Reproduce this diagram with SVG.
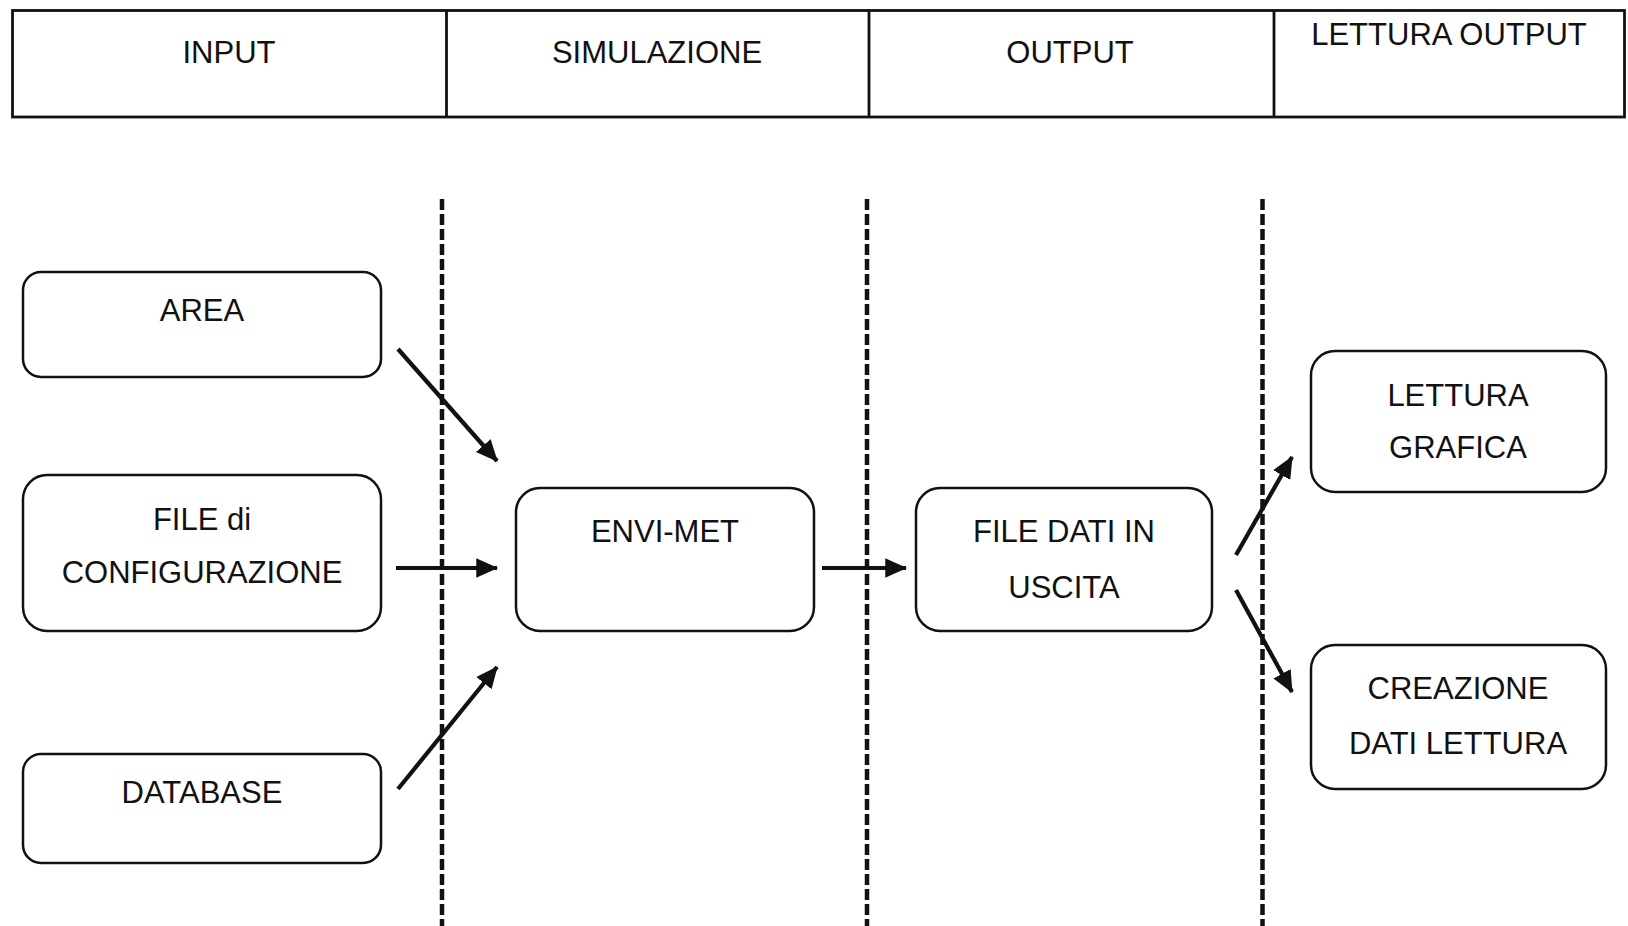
<svg xmlns="http://www.w3.org/2000/svg" width="1628" height="926" viewBox="0 0 1628 926">
<style>
text{font-family:"Liberation Sans",Arial,sans-serif;font-size:31px;fill:#111;text-anchor:middle;dominant-baseline:central}
.hdr{fill:none;stroke:#111;stroke-width:2.8}
.box{fill:#fff;stroke:#111;stroke-width:2.5}
.lane{stroke:#111;stroke-width:4.5;stroke-dasharray:11 4}
.arr{stroke:#111;stroke-width:4.2;fill:none;marker-end:url(#ah)}
</style>
<defs>
<marker id="ah" viewBox="0 0 10 10" refX="9.5" refY="5" markerWidth="5.2" markerHeight="5.2" markerUnits="strokeWidth" orient="auto">
<path d="M0,0.5 L10,5 L0,9.5 Z" fill="#111"/>
</marker>
</defs>
<rect width="1628" height="926" fill="#fff"/>
<g id="header">
<rect class="hdr" x="12.5" y="10.5" width="1612" height="106.5"/>
<line class="hdr" x1="446.5" y1="10.5" x2="446.5" y2="117"/>
<line class="hdr" x1="869" y1="10.5" x2="869" y2="117"/>
<line class="hdr" x1="1274" y1="10.5" x2="1274" y2="117"/>
<text x="229" y="52" font-size="32">INPUT</text>
<text x="657" y="52" font-size="32">SIMULAZIONE</text>
<text x="1070" y="52" font-size="32">OUTPUT</text>
<text x="1449" y="34" font-size="32">LETTURA OUTPUT</text>
</g>
<g id="lanes">
<line class="lane" x1="442" y1="199" x2="442" y2="926"/>
<line class="lane" x1="867" y1="199" x2="867" y2="926"/>
<line class="lane" x1="1262.5" y1="199" x2="1262.5" y2="926"/>
</g>
<g id="area">
<rect class="box" x="23" y="272" width="358" height="105" rx="18"/>
<text x="202" y="310">AREA</text>
</g>
<g id="config">
<rect class="box" x="23" y="475" width="358" height="156" rx="24"/>
<text x="202" y="519">FILE di</text>
<text x="202" y="572">CONFIGURAZIONE</text>
</g>
<g id="database">
<rect class="box" x="23" y="754" width="358" height="109" rx="18"/>
<text x="202" y="792">DATABASE</text>
</g>
<g id="envimet">
<rect class="box" x="516" y="488" width="298" height="143" rx="24"/>
<text x="665" y="531">ENVI-MET</text>
</g>
<g id="filedati">
<rect class="box" x="916" y="488" width="296" height="143" rx="24"/>
<text x="1064" y="531">FILE DATI IN</text>
<text x="1064" y="587">USCITA</text>
</g>
<g id="lettura">
<rect class="box" x="1311" y="351" width="295" height="141" rx="24"/>
<text x="1458" y="395">LETTURA</text>
<text x="1458" y="447">GRAFICA</text>
</g>
<g id="creazione">
<rect class="box" x="1311" y="645" width="295" height="144" rx="24"/>
<text x="1458" y="688">CREAZIONE</text>
<text x="1458" y="743">DATI LETTURA</text>
</g>
<g id="connectors">
<line class="arr" x1="398" y1="349" x2="497" y2="461"/>
<line class="arr" x1="396" y1="568" x2="497" y2="568"/>
<line class="arr" x1="398" y1="789" x2="497" y2="667"/>
<line class="arr" x1="822" y1="568" x2="906" y2="568"/>
<line class="arr" x1="1236" y1="555" x2="1292" y2="457"/>
<line class="arr" x1="1236" y1="590" x2="1292" y2="692"/>
</g>
</svg>
